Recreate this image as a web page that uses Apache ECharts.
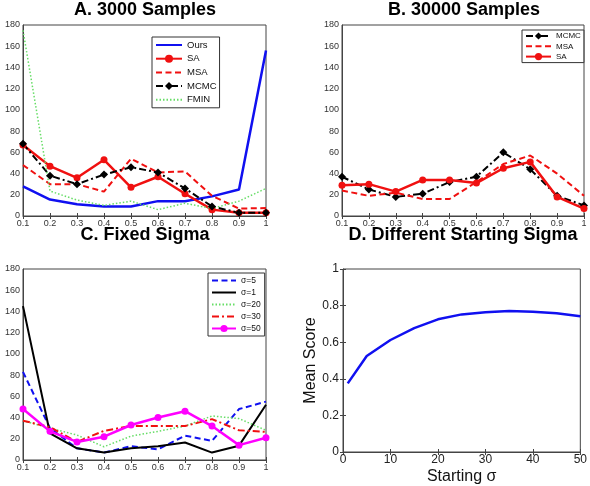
<!DOCTYPE html>
<html><head><meta charset="utf-8">
<script src="https://cdn.jsdelivr.net/npm/echarts@6/dist/echarts.min.js"></script>
<style>html,body{margin:0;padding:0;background:#fff}#c{width:590px;height:486px}</style>
</head><body><div id="c"></div>
<script>
// ---- data ----
const xCats = ['0.1','0.2','0.3','0.4','0.5','0.6','0.7','0.8','0.9','1'];
// Panel A: 3000 samples
const oursA = [28, 15.5, 11, 9, 9, 14, 14, 18.5, 25, 156];
const saA   = [67, 47, 36, 53, 27, 37, 21, 6, 3, 3];
const msaA  = [48, 30, 30, 23, 54, 41, 42, 19, 7, 7.5];
const mcmcA = [68, 38, 30, 39, 46, 41, 26, 9, 3, 3];
const fminA = [175, 23.5, 15, 10, 14, 6, 12, 7, 14, 26];
// Panel B: 30000 samples
const mcmcB = [37, 25, 18, 21, 32, 37, 60, 44, 19, 10];
const msaB  = [24, 19, 22, 16, 16, 32, 49, 57, 40, 19];
const saB   = [29, 30, 23, 34, 34, 31, 45, 51, 18, 7];
// Panel C: fixed sigma
const sig5  = [83, 30, 11, 7, 13, 10, 23, 18, 48, 55];
const sig1  = [145, 25, 11, 7, 11, 13, 16.5, 7, 13.5, 52];
const sig20 = [37, 30, 23.5, 12.5, 22.5, 27, 32, 41.5, 39, 28];
const sig30 = [37, 31, 17, 27.5, 32, 32, 32, 38.5, 28, 26.5];
const sig50 = [48, 27, 17, 22, 33, 40, 46, 32, 14, 21];
// Panel D: different starting sigma
const startSigma = [1, 5, 10, 15, 20, 25, 30, 35, 40, 45, 50];
const meanScore  = [0.375, 0.525, 0.612, 0.677, 0.725, 0.752, 0.764, 0.77, 0.767, 0.758, 0.742];

const legendA = ['Ours','SA','MSA','MCMC','FMIN'];
const legendB = ['MCMC','MSA','SA'];
const legendC = ['σ=5','σ=1','σ=20','σ=30','σ=50'];
const noMarker = ['Ours','MSA','FMIN','σ=5','σ=1','σ=20','σ=30'];

// ---- styling ----
const FONT = 'Liberation Sans';
const BLUE = '#1010f0', RED = '#f01010', BLACK = '#000', GREEN = '#66dd66', MAG = '#ff00ff';
const DASH = [6, 3.5], DASHDOT = [7, 3, 2, 3], DOT = [1.5, 2];

const grids = [
  {left: 23, top: 25, width: 243, height: 191},
  {left: 342, top: 25, width: 242, height: 191},
  {left: 23, top: 269, width: 243, height: 191},
  {left: 343, top: 269, width: 241, height: 185}
].map(g => Object.assign({show: true, borderColor: '#444', borderWidth: 1, backgroundColor: '#fff'}, g));

const smallLabel = {fontFamily: FONT, fontSize: 9, color: '#333'};
const tick = {inside: true, length: 3, lineStyle: {color: '#444'}};
const axLine = {show: true, lineStyle: {color: '#444', width: 1}};

const xAxes = [], yAxes = [];
for (let i = 0; i < 3; i++) {
  xAxes.push({type: 'category', gridIndex: i, data: xCats, boundaryGap: false, position: 'bottom',
    axisLine: axLine, axisTick: Object.assign({alignWithLabel: true}, tick), axisLabel: Object.assign({margin: 3}, smallLabel), splitLine: {show: false}});
  xAxes.push({type: 'category', gridIndex: i, data: xCats, boundaryGap: false, position: 'top',
    axisLine: {show: false}, axisTick: tick, axisLabel: {show: false}, splitLine: {show: false}});
  yAxes.push({type: 'value', gridIndex: i, min: 0, max: 180, interval: 20, position: 'left',
    axisLine: axLine, axisTick: tick, axisLabel: Object.assign({margin: 3}, smallLabel), splitLine: {show: false}});
  yAxes.push({type: 'value', gridIndex: i, min: 0, max: 180, interval: 20, position: 'right',
    axisLine: {show: false}, axisTick: tick, axisLabel: {show: false}, splitLine: {show: false}});
}
// Panel D axes
xAxes.push({type: 'value', gridIndex: 3, min: 0, max: 50, interval: 10, position: 'bottom',
  name: 'Starting σ', nameLocation: 'middle', nameGap: 17, nameTextStyle: {fontFamily: FONT, fontSize: 16, color: '#111'},
  axisLine: axLine, axisTick: tick, axisLabel: {fontFamily: FONT, fontSize: 12, color: '#222', margin: 2}, splitLine: {show: false}});
xAxes.push({type: 'value', gridIndex: 3, min: 0, max: 50, interval: 10, position: 'top',
  axisLine: {show: false}, axisTick: tick, axisLabel: {show: false}, splitLine: {show: false}});
yAxes.push({type: 'value', gridIndex: 3, min: 0, max: 1, interval: 0.2, position: 'left',
  name: 'Mean Score', nameLocation: 'middle', nameGap: 22, nameTextStyle: {fontFamily: FONT, fontSize: 16, color: '#111'},
  axisLine: axLine, axisTick: tick, axisLabel: {fontFamily: FONT, fontSize: 12, color: '#222', margin: 4}, splitLine: {show: false}});
yAxes.push({type: 'value', gridIndex: 3, min: 0, max: 1, interval: 0.2, position: 'right',
  axisLine: {show: false}, axisTick: tick, axisLabel: {show: false}, splitLine: {show: false}});

function ser(name, data, panel, color, opts) {
  const o = opts || {};
  return {
    name, type: 'line', data, xAxisIndex: panel * 2, yAxisIndex: panel * 2,
    symbol: o.symbol || 'none', symbolSize: o.symbolSize || 7, showSymbol: !!o.symbol,
    lineStyle: {color, width: o.width || 2, type: o.type || 'solid'},
    itemStyle: {color}, animation: false, z: o.z || 2
  };
}

const series = [
  ser('Ours', oursA, 0, BLUE, {width: 2.5}),
  ser('SA', saA, 0, RED, {width: 2.5, symbol: 'circle', symbolSize: 7}),
  ser('MSA', msaA, 0, RED, {width: 2, type: DASH}),
  ser('MCMC', mcmcA, 0, BLACK, {width: 2, type: DASHDOT, symbol: 'diamond', symbolSize: 8}),
  ser('FMIN', fminA, 0, GREEN, {width: 1.5, type: DOT}),

  ser('MCMC', mcmcB, 1, BLACK, {width: 2, type: DASHDOT, symbol: 'diamond', symbolSize: 8}),
  ser('MSA', msaB, 1, RED, {width: 2, type: DASH}),
  ser('SA', saB, 1, RED, {width: 2.5, symbol: 'circle', symbolSize: 7}),

  ser('σ=5', sig5, 2, BLUE, {width: 2, type: DASH}),
  ser('σ=1', sig1, 2, BLACK, {width: 2}),
  ser('σ=20', sig20, 2, GREEN, {width: 1.5, type: DOT}),
  ser('σ=30', sig30, 2, RED, {width: 2, type: DASHDOT}),
  ser('σ=50', sig50, 2, MAG, {width: 2.5, symbol: 'circle', symbolSize: 7}),

  {name: 'Mean Score', type: 'line', data: startSigma.map((x, i) => [x, meanScore[i]]),
   xAxisIndex: 6, yAxisIndex: 6, symbol: 'none', lineStyle: {color: BLUE, width: 2.5}, itemStyle: {color: BLUE}, animation: false}
];

const legItems = names => names.map(n => noMarker.includes(n) ? {name: n, itemStyle: {opacity: 0}} : {name: n});
const legBase = {orient: 'vertical', backgroundColor: '#fff', borderColor: '#333', borderWidth: 1,
  itemWidth: 27, selectedMode: false, textStyle: {fontFamily: FONT, fontSize: 9.5, color: '#111'}};
const legends = [
  Object.assign({}, legBase, {data: legItems(legendA), left: 152, top: 37, itemHeight: 10, itemGap: 3.7, itemWidth: 26, padding: [3, 3, 3, 3]}),
  Object.assign({}, legBase, {data: legItems(legendB), left: 522, top: 30, itemHeight: 9, itemGap: 2.3, itemWidth: 25, padding: [2, 3, 2, 3],
    textStyle: {fontFamily: FONT, fontSize: 8, color: '#111'}}),
  Object.assign({}, legBase, {data: legItems(legendC), left: 208, top: 273, itemHeight: 9, itemGap: 3, itemWidth: 24, padding: [3, 4, 3, 3],
    textStyle: {fontFamily: FONT, fontSize: 8.5, color: '#111'}})
];

const tStyle = {fontFamily: FONT, fontSize: 18, fontWeight: 'bold', color: '#000'};
const titles = [
  {text: 'A. 3000 Samples', left: 145, top: 1, textAlign: 'center', padding: 0, textStyle: tStyle},
  {text: 'B. 30000 Samples', left: 464, top: 1, textAlign: 'center', padding: 0, textStyle: tStyle},
  {text: 'C. Fixed Sigma', left: 145, top: 226, textAlign: 'center', padding: 0, textStyle: tStyle},
  {text: 'D. Different Starting Sigma', left: 463, top: 226, textAlign: 'center', padding: 0, textStyle: tStyle}
];

const chart = echarts.init(document.getElementById('c'), null, {renderer: 'canvas'});
chart.setOption({
  backgroundColor: '#fff', animation: false,
  title: titles, grid: grids, xAxis: xAxes, yAxis: yAxes, legend: legends, series
});
</script></body></html>
